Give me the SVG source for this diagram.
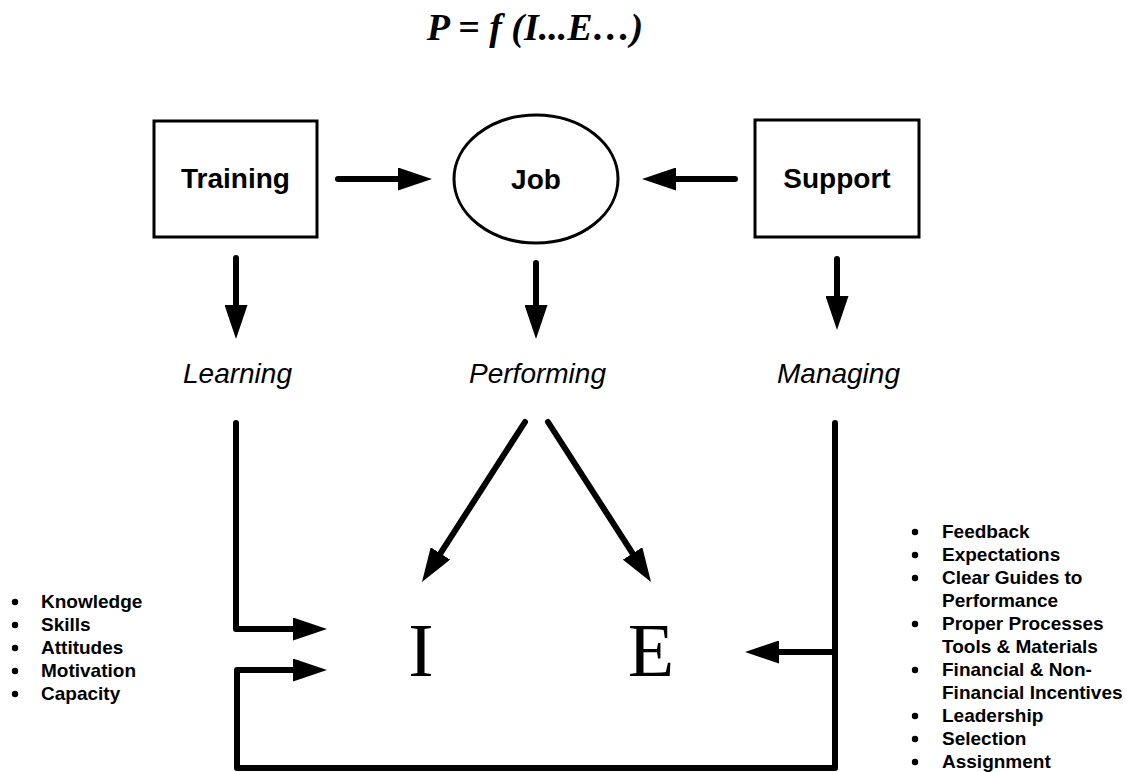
<svg xmlns="http://www.w3.org/2000/svg" width="1127" height="772" viewBox="0 0 1127 772">
<style>
.box{fill:#fff;stroke:#000;stroke-width:3}
.lbl{font-family:"Liberation Sans",Arial,sans-serif;font-weight:bold;font-size:28px;text-anchor:middle;fill:#000}
.act{font-family:"Liberation Sans",Arial,sans-serif;font-style:italic;font-size:28px;text-anchor:middle;fill:#000}
.big{font-family:"Liberation Serif","Times New Roman",serif;font-size:76px;text-anchor:middle;fill:#000}
.title{font-family:"Liberation Serif","Times New Roman",serif;font-weight:bold;font-style:italic;font-size:38px;text-anchor:middle;fill:#000}
.list{font-family:"Liberation Sans",Arial,sans-serif;font-weight:bold;font-size:19px;fill:#000}
.con{fill:none;stroke:#000;stroke-width:6;stroke-linecap:round;stroke-linejoin:round}
.arr{marker-end:url(#ah)}
</style>
<defs>
<marker id="ah" viewBox="0 0 34 23" refX="2" refY="11.5" markerWidth="34" markerHeight="23" markerUnits="userSpaceOnUse" orient="auto">
<path d="M0,0 L34,11.5 L0,23 Z" fill="#000"/>
</marker>
</defs>
<rect width="1127" height="772" fill="#fff"/>
<text class="title" x="535" y="40">P = f (I...E…)</text>

<g id="training">
<rect class="box" x="154" y="121" width="163" height="116"/>
<text class="lbl" x="235.5" y="188">Training</text>
</g>
<g id="job">
<ellipse cx="536" cy="179" rx="82" ry="64" fill="#fff" stroke="#000" stroke-width="3"/>
<text class="lbl" x="536" y="189">Job</text>
</g>
<g id="support">
<rect class="box" x="755" y="120" width="164" height="117"/>
<text class="lbl" x="837" y="188">Support</text>
</g>
<g id="learning"><text class="act" x="237.5" y="383">Learning</text></g>
<g id="performing"><text class="act" x="537.5" y="383">Performing</text></g>
<g id="managing"><text class="act" x="838.5" y="383">Managing</text></g>
<g id="I"><text class="big" x="421" y="676">I</text></g>
<g id="E"><text class="big" x="651" y="676">E</text></g>

<g id="individual-factors" class="list">
<circle cx="15" cy="602" r="3.2"/><text x="41" y="608">Knowledge</text>
<circle cx="15" cy="625" r="3.2"/><text x="41" y="631">Skills</text>
<circle cx="15" cy="648" r="3.2"/><text x="41" y="654">Attitudes</text>
<circle cx="15" cy="671" r="3.2"/><text x="41" y="677">Motivation</text>
<circle cx="15" cy="694" r="3.2"/><text x="41" y="700">Capacity</text>
</g>
<g id="environment-factors" class="list">
<circle cx="915" cy="532" r="3.2"/><text x="942" y="538">Feedback</text>
<circle cx="915" cy="555" r="3.2"/><text x="942" y="561">Expectations</text>
<circle cx="915" cy="578" r="3.2"/><text x="942" y="584">Clear Guides to</text>
<text x="942" y="607">Performance</text>
<circle cx="915" cy="624" r="3.2"/><text x="942" y="630">Proper Processes</text>
<text x="942" y="653">Tools &amp; Materials</text>
<circle cx="915" cy="670" r="3.2"/><text x="942" y="676">Financial &amp; Non-</text>
<text x="942" y="699">Financial Incentives</text>
<circle cx="915" cy="716" r="3.2"/><text x="942" y="722">Leadership</text>
<circle cx="915" cy="739" r="3.2"/><text x="942" y="745">Selection</text>
<circle cx="915" cy="762" r="3.2"/><text x="942" y="768">Assignment</text>
</g>

<g id="connectors">
<path class="con arr" d="M338,179 L400,179"/>
<path class="con arr" d="M735,179 L674,179"/>
<path class="con arr" d="M236,258 L236,307"/>
<path class="con arr" d="M536,263 L536,307"/>
<path class="con arr" d="M837,259 L837,298"/>
<path class="con arr" d="M525,422 L439.3,555.1"/>
<path class="con arr" d="M548,422 L633.7,555.1"/>
<path class="con arr" d="M236,423 L236,629 L295,629"/>
<path class="con arr" d="M835,423 L835,768 L237,768 L237,670 L295,670"/>
<path class="con arr" d="M835,652 L777,652"/>
</g>
</svg>
